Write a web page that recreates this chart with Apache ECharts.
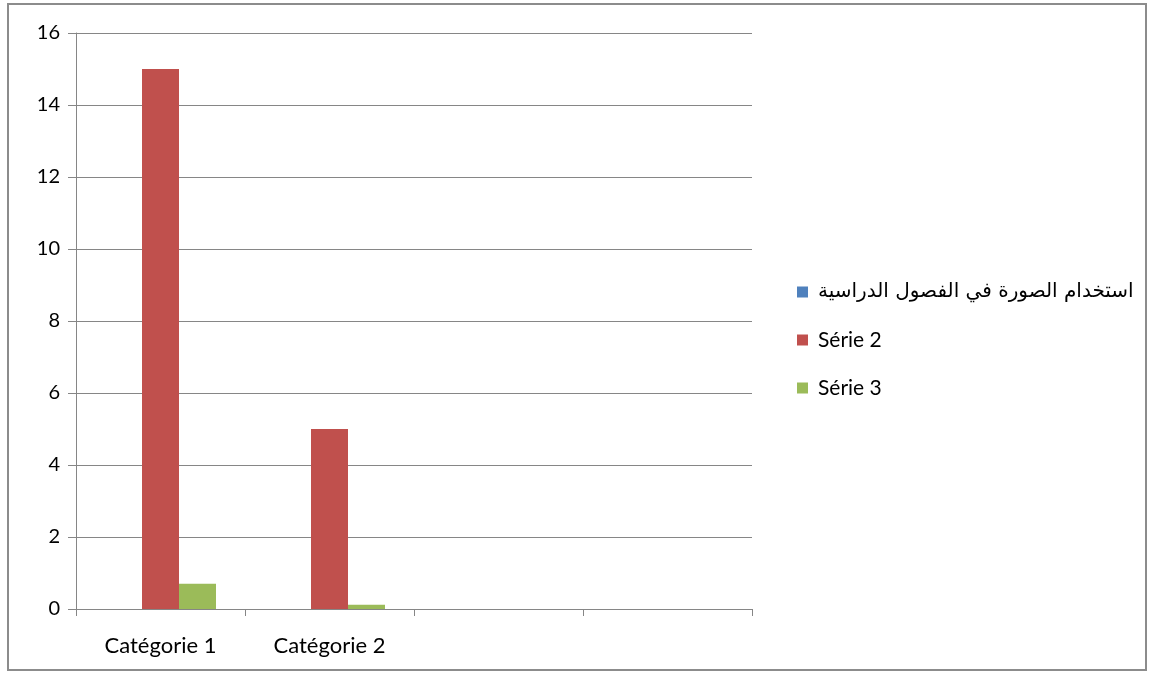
<!DOCTYPE html>
<html>
<head>
<meta charset="utf-8">
<script src="https://cdn.jsdelivr.net/npm/echarts@6/dist/echarts.min.js"></script>
<style>
	html, body { margin: 0; padding: 0; background: #fff; }
	#main { position: absolute; left: 7px; top: 3px; width: 1140px; height: 668px; border: 2px solid #8c8c8c; box-sizing: border-box; }
</style>
</head>
<body>
<div id="main"></div>
<script>
var categories = ['Catégorie 1', 'Catégorie 2', '', ''];
var seriesNames = ['استخدام الصورة في الفصول الدراسية', 'Série 2', 'Série 3'];
var serie1 = [0, 0, null, null];
var serie2 = [15, 5, null, null];
var serie3 = [0.7, 0.12, null, null];
var yTicks = [0, 2, 4, 6, 8, 10, 12, 14, 16];

var fontFam = 'Lato, "DejaVu Sans", sans-serif';
var arFont = '"DejaVu Sans", sans-serif';
var colors = ['#4f81bd', '#c0504d', '#9bbb59'];

var chart = echarts.init(document.getElementById('main'));
var option = {
	animation: false,
	color: colors,
	textStyle: { fontFamily: fontFam },
	grid: { left: 67, top: 28, right: 393, bottom: 60, containLabel: false },
	legend: {
		orient: 'vertical',
		left: 788,
		top: 274,
		padding: 0,
		itemWidth: 11,
		itemHeight: 11,
		itemGap: 22,
		icon: 'rect',
		formatter: function (name) {
			return name === seriesNames[0] ? '{ar|' + name + '}' : name;
		},
		textStyle: {
			fontSize: 21, color: '#000', fontFamily: fontFam, lineHeight: 26,
			padding: [0, 0, 0, 5],
			rich: { ar: { fontSize: 20, fontFamily: arFont, color: '#000', lineHeight: 26 } }
		},
		data: seriesNames
	},
	xAxis: {
		type: 'category',
		data: categories,
		axisLine: { lineStyle: { color: '#868686', width: 1 } },
		axisTick: { show: true, length: 7, lineStyle: { color: '#868686' } },
		axisLabel: { color: '#000', fontSize: 22, margin: 26, fontFamily: fontFam }
	},
	yAxis: {
		type: 'value',
		min: 0,
		max: 16,
		interval: 2,
		axisLine: { show: true, lineStyle: { color: '#868686' } },
		axisTick: { show: true, length: 8, lineStyle: { color: '#868686' } },
		axisLabel: {
			color: '#000', fontSize: 20, margin: 16, fontFamily: fontFam,
			formatter: function (v) { return yTicks.indexOf(v) >= 0 ? String(v) : ''; }
		},
		splitLine: { show: true, lineStyle: { color: '#868686', width: 1 } }
	},
	series: [
		{ name: seriesNames[0], type: 'bar', data: serie1, barWidth: 37, barGap: '0%' },
		{ name: seriesNames[1], type: 'bar', data: serie2, barWidth: 37, barGap: '0%' },
		{ name: seriesNames[2], type: 'bar', data: serie3, barWidth: 37, barGap: '0%' }
	]
};
chart.setOption(option);
</script>
</body>
</html>
